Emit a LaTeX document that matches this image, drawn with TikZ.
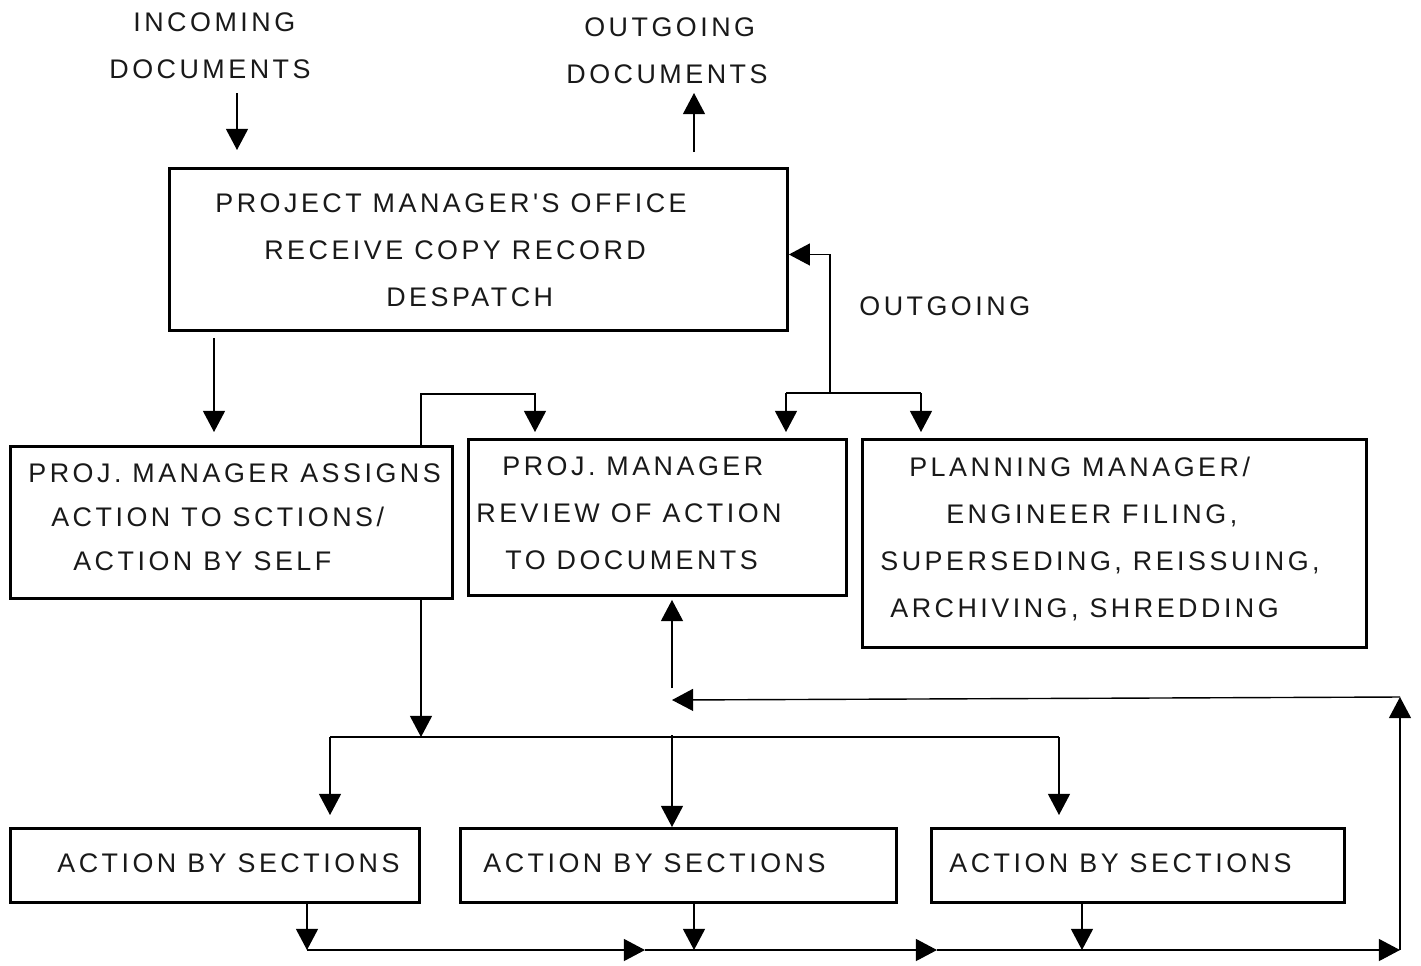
\documentclass[tikz,border=0pt]{standalone}
\usepackage{fontspec}
\usepackage{tikz}
\usetikzlibrary{arrows.meta}
\newfontfamily\lblfont{Liberation Sans}[LetterSpace=13]

\begin{document}
\begin{tikzpicture}[x=0.02cm,y=-0.02cm,
	box/.style={draw,line width=1.7pt,anchor=north west,inner sep=0pt},
	lbl/.style={font=\lblfont\fontsize{15.3}{26.7}\selectfont,align=left,anchor=north west,inner sep=0pt,text=black!90},
	arr/.style={-{Triangle[length=12pt,width=12.5pt]},line width=0.8pt},
	line/.style={line width=0.8pt}]
	\useasboundingbox (0,0) rectangle (1421,965);

	\node[box,minimum width=12.36cm,minimum height=3.24cm] (pmo) at (168,167) {};
	\node[box,minimum width=8.84cm,minimum height=3.04cm] (assign) at (9,445) {};
	\node[box,minimum width=7.56cm,minimum height=3.12cm] (review) at (467,438) {};
	\node[box,minimum width=10.08cm,minimum height=4.16cm] (plan) at (861,438) {};
	\node[box,minimum width=8.18cm,minimum height=1.48cm] (sec1) at (9,827) {};
	\node[box,minimum width=8.72cm,minimum height=1.48cm] (sec2) at (459,827) {};
	\node[box,minimum width=8.26cm,minimum height=1.48cm] (sec3) at (930,827) {};

	\node[lbl] (intxt) at (109,12.5) {\hspace*{0.48cm}INCOMING\\DOCUMENTS};
	\node[lbl] (outtxt) at (566,17.5) {\hspace*{0.36cm}OUTGOING\\DOCUMENTS};
	\node[lbl] (outlbl) at (859,296.5) {OUTGOING};
	\node[lbl] (pmotxt) at (215,193.5) {PROJECT MANAGER'S OFFICE\\\hspace*{0.98cm}RECEIVE COPY RECORD\\\hspace*{3.42cm}DESPATCH};
	\node[lbl,font=\lblfont\fontsize{15.3}{25}\selectfont] (assigntxt) at (28,463.5) {PROJ. MANAGER ASSIGNS\\\hspace*{0.46cm}ACTION TO SCTIONS/\\\hspace*{0.9cm}ACTION BY SELF};
	\node[lbl] (reviewtxt) at (476,456.5) {\hspace*{0.52cm}PROJ. MANAGER\\REVIEW OF ACTION\\\hspace*{0.58cm}TO DOCUMENTS};
	\node[lbl] (plantxt) at (880,456.5) {\hspace*{0.58cm}PLANNING MANAGER/\\\hspace*{1.32cm}ENGINEER FILING,\\SUPERSEDING, REISSUING,\\\hspace*{0.2cm}ARCHIVING, SHREDDING};
	\node[lbl] (sec1txt) at (57,853.5) {ACTION BY SECTIONS};
	\node[lbl] (sec2txt) at (483,853.5) {ACTION BY SECTIONS};
	\node[lbl] (sec3txt) at (949,853.5) {ACTION BY SECTIONS};

	\coordinate (in1) at (237,93);
	\coordinate (out1) at (694,93);
	\coordinate (c1) at (214,0);
	\coordinate (j1) at (421,394);
	\coordinate (j2) at (535,394);
	\coordinate (j3) at (830,393);
	\coordinate (j4) at (786,393);
	\coordinate (j5) at (921,393);
	\coordinate (j6) at (421,737);
	\coordinate (j7) at (330,737);
	\coordinate (j8) at (1059,737);
	\coordinate (j9) at (672,735);
	\coordinate (j10) at (672,688);
	\coordinate (b1) at (307,950);
	\coordinate (b2) at (645,950);
	\coordinate (b3) at (937,950);
	\coordinate (b4) at (1400,950);
	\coordinate (b5) at (1400,697);
	\coordinate (b6) at (672,700);
	\coordinate (d2) at (694,950);
	\coordinate (d3) at (1082,950);

	\draw[arr,shorten >=0.34cm] (in1) -- (in1 |- pmo.north);
	\draw[arr,shorten <=0.3cm] (pmo.north -| out1) -- (out1);
	\draw[arr,shorten <=0.12cm,shorten >=0.26cm] (pmo.south -| c1) -- (assign.north -| c1);
	\draw[arr,shorten >=0.12cm] (assign.north -| j1) -- (j1) -- (j2) -- (review.north -| j2);
	\draw[arr] (j3) |- ([yshift=-0.1cm]pmo.east);
	\draw[line] (j4) -- (j5);
	\draw[arr,shorten >=0.12cm] (j4) -- (review.north -| j4);
	\draw[arr,shorten >=0.12cm] (j5) -- (plan.north -| j5);
	\draw[arr] (assign.south -| j6) -- (j6);
	\draw[line] (j7) -- (j8);
	\draw[arr,shorten >=0.24cm] (j7) -- (sec1.north -| j7);
	\draw[arr,shorten >=0.24cm] (j8) -- (sec3.north -| j8);
	\draw[arr] (j9) -- (sec2.north -| j9);
	\draw[arr,shorten >=0.06cm] (j10) -- (review.south -| j10);
	\draw[arr] (sec1.south -| b1) -- (b1);
	\draw[arr] (sec2.south -| d2) -- (d2);
	\draw[arr] (sec3.south -| d3) -- (d3);
	\draw[arr] (b1) -- (b2);
	\draw[arr] (b2) -- (b3);
	\draw[arr] (b3) -- (b4);
	\draw[arr] (b4) -- (b5);
	\draw[arr] (b5) -- (b6);
\end{tikzpicture}
\end{document}
